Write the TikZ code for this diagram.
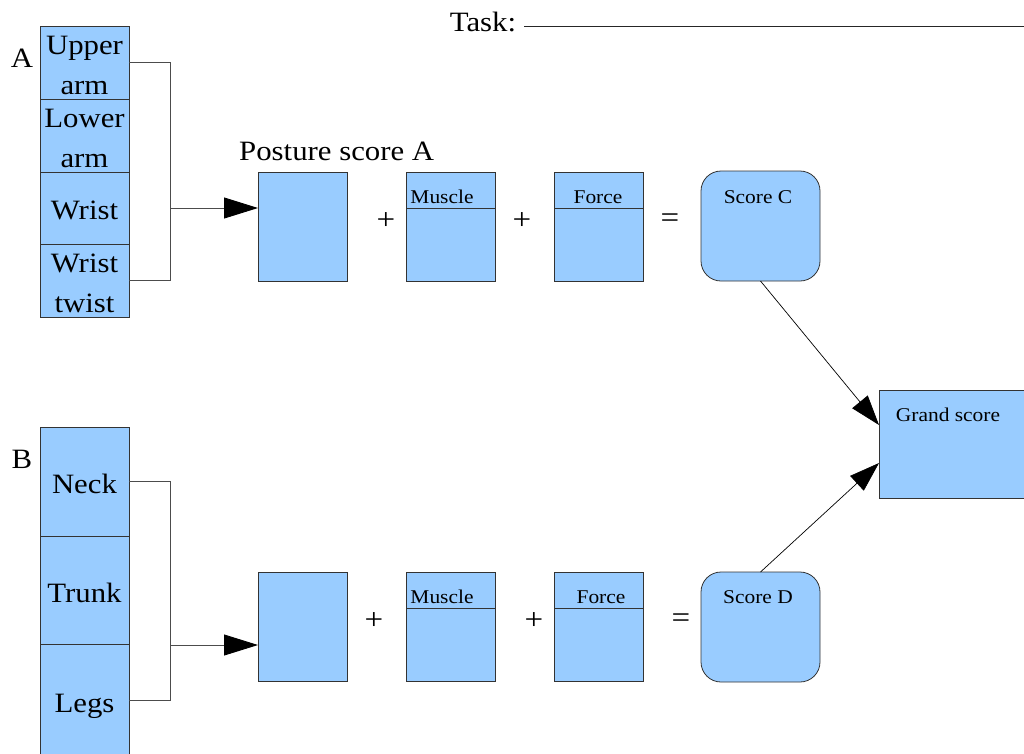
\documentclass[tikz,border=0pt]{standalone}
\usepackage{fontspec}
\setmainfont{Liberation Serif}
\newfontfamily\tms[FakeStretch=1.1]{Liberation Serif}
\usetikzlibrary{arrows.meta}
\definecolor{boxblue}{HTML}{99CCFF}
\definecolor{edge}{HTML}{333333}
\begin{document}
\begin{tikzpicture}[x=1pt,y=-1pt,
  cell/.style={draw=edge, fill=boxblue, line width=0.8pt, minimum width=89pt, minimum height=#1, anchor=north west, inner sep=0pt, outer sep=0pt},
  celltext/.style={align=center, inner sep=0pt, yshift=-2.5pt, font=\tms\fontsize{28}{40}\selectfont},
  sbox/.style={draw=edge, fill=boxblue, line width=0.8pt, minimum width=89pt, minimum height=109pt, anchor=north west, inner sep=0pt, outer sep=0pt},
  rbox/.style={draw=edge, fill=boxblue, line width=0.8pt, minimum width=119pt, minimum height=110pt, anchor=north west, inner sep=0pt, outer sep=0pt, rounded corners=20pt},
  small/.style={font=\tms\fontsize{19.5}{24}\selectfont, inner sep=0pt},
  big/.style={font=\tms\fontsize{28}{32}\selectfont, inner sep=0pt},
  op/.style={font=\tms\fontsize{30}{34}\selectfont, inner sep=0pt},
  bracket/.style={draw=black!70, line width=0.9pt},
  bigarrow/.style={bracket, -{Triangle[length=34pt,width=21pt,color=black,fill=black]}},
  diag/.style={draw=black, line width=0.7pt, -{Triangle[length=30pt,width=20pt]}}
]
\useasboundingbox (0,0) rectangle (1024,753);

% Task line
\node[big, anchor=base] (task) at (483,31) {Task:};
\coordinate (taskend) at (1024,26);
\draw[line width=0.9pt, black!85] (524,26) -- (taskend);

% Column A
\node[big] (labA) at (22,58) {A};
\node[cell=73pt, label={[celltext]center:{Upper\\arm}}] (ua) at (40,26) {};
\node[cell=73pt, label={[celltext]center:{Lower\\arm}}] (la) at (40,99) {};
\node[cell=72pt, label={[celltext]center:Wrist}] (wr) at (40,172) {};
\node[cell=73pt, label={[celltext]center:{Wrist\\twist}}] (wt) at (40,244) {};

% Column B
\node[big] (labB) at (22,459) {B};
\node[cell=109pt, label={[celltext]center:Neck}] (neck) at (40,427) {};
\node[cell=108pt, label={[celltext]center:Trunk}] (trunk) at (40,536) {};
\node[cell=112pt, label={[celltext, yshift=-4pt]center:Legs}] (legs) at (40,644) {};

% Top row
\node[big, anchor=base west] (pst) at (239,160) {Posture score A};
\node[sbox] (pA) at (258,172) {};
\node[sbox] (mA) at (406,172) {};
\draw[edge, line width=0.8pt] (406,208) -- (495,208);
\node[small] (mAt) at (442,197) {Muscle};
\node[sbox] (fA) at (554,172) {};
\draw[edge, line width=0.8pt] (554,208) -- (643,208);
\node[small] (fAt) at (598,197) {Force};
\node[rbox] (sC) at (701,171) {};
\node[small] (sCt) at (758,197) {Score C};
\node[op] (p1) at (386,221) {+};
\node[op] (p2) at (522,221) {+};
\node[op] (e1) at (670,221) {=};

% Bottom row
\node[sbox] (pB) at (258,572) {};
\node[sbox] (mB) at (406,572) {};
\draw[edge, line width=0.8pt] (406,608) -- (495,608);
\node[small] (mBt) at (442,597) {Muscle};
\node[sbox] (fB) at (554,572) {};
\draw[edge, line width=0.8pt] (554,608) -- (643,608);
\node[small] (fBt) at (601,597) {Force};
\node[rbox] (sD) at (701,572) {};
\node[small] (sDt) at (758,597) {Score D};
\node[op] (p3) at (374,621) {+};
\node[op] (p4) at (534,621) {+};
\node[op] (e2) at (681,621) {=};

% Grand score
\node[draw=edge, fill=boxblue, line width=0.8pt, minimum width=150pt, minimum height=108pt, anchor=north west, inner sep=0pt] (gs) at (879,390) {};
\node[small] (gst) at (948,415) {Grand score};

% Brackets A
\coordinate (jA) at (170,208);
\draw[bracket] (ua.east) -- (ua.east -| jA) -- (wt.east -| jA) -- (wt.east);
\draw[bigarrow] (jA) -- (pA.west |- jA);

% Brackets B
\coordinate (jB) at (170,645);
\draw[bracket] (neck.east) -- (neck.east -| jB) -- (legs.east -| jB) -- (legs.east);
\draw[bigarrow] (jB) -- (pB.west |- jB);

% Diagonals
\coordinate (g1) at (879,425);
\coordinate (g2) at (879,463);
\draw[diag] (sC.south) -- (g1);
\draw[diag] (sD.north) -- (g2);
\end{tikzpicture}
\end{document}
